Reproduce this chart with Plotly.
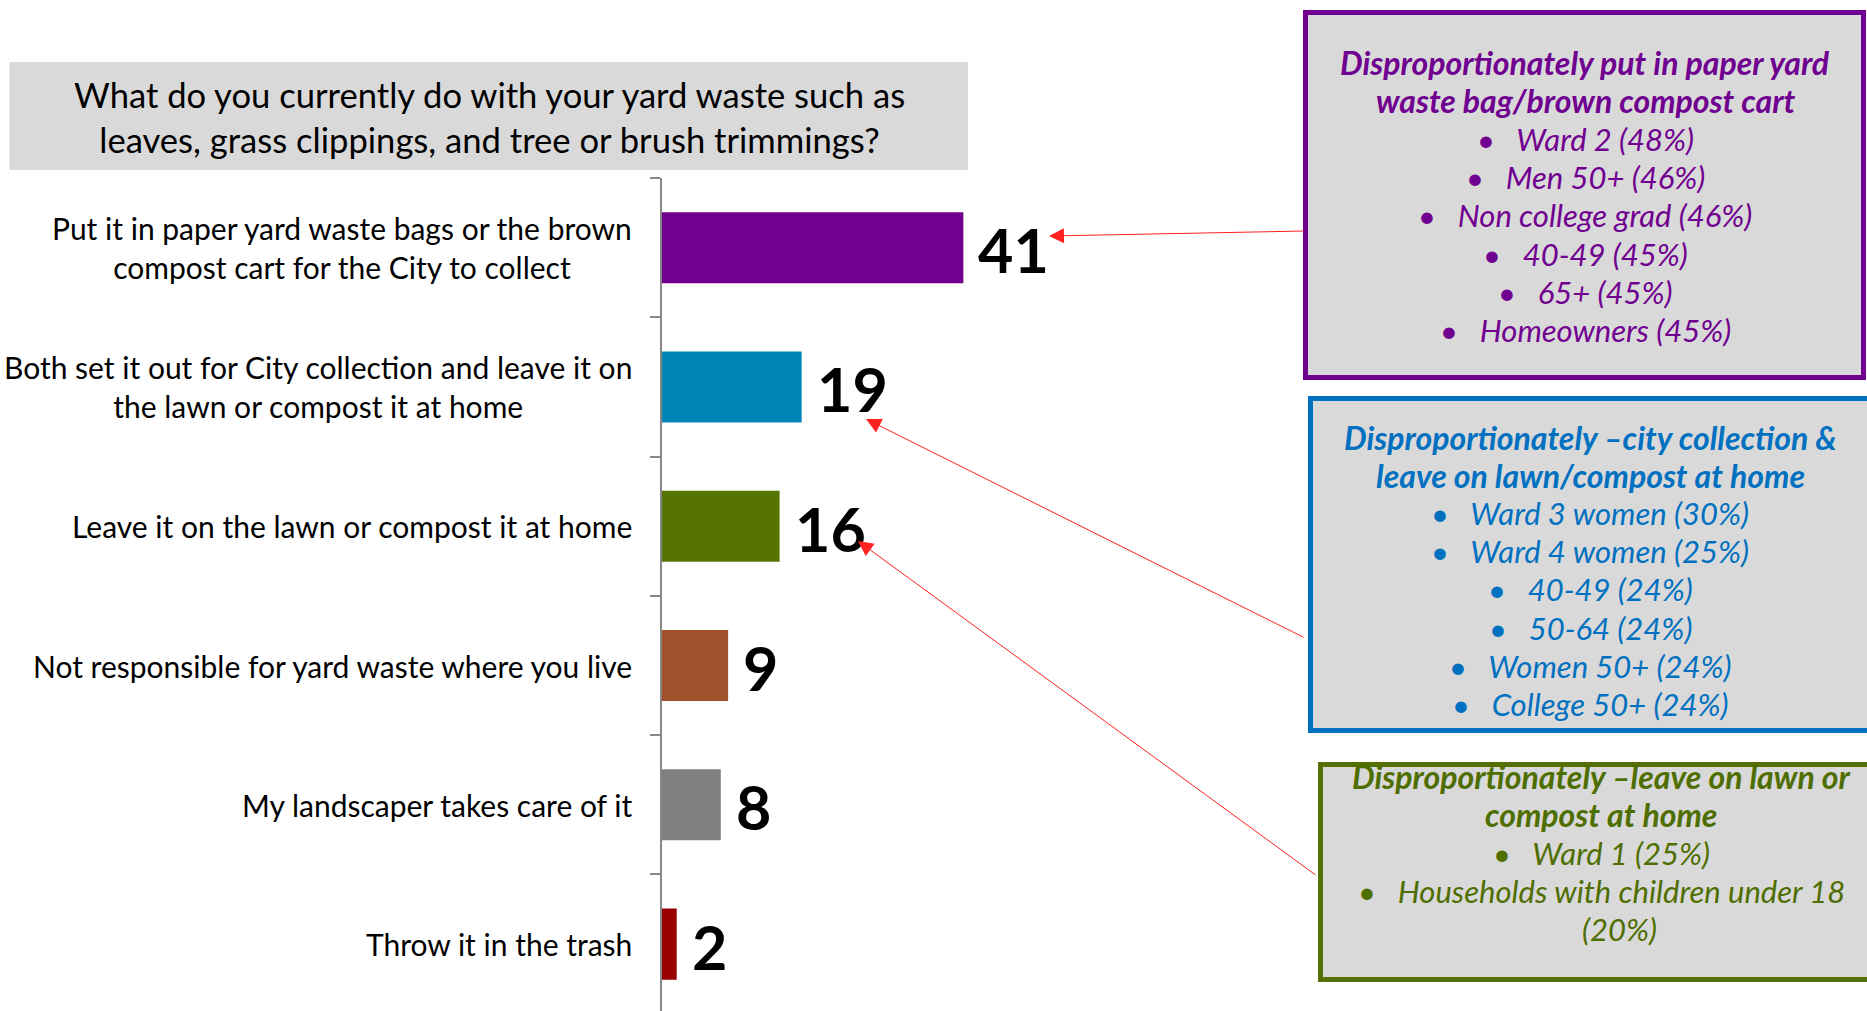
import plotly.graph_objects as go

W, H = 1867, 1011

# ---- data ----
categories = [
    "Put it in paper yard waste bags or the brown<br>compost cart for the City to collect",
    "Both set it out for City collection and leave it on<br>the lawn or compost it at home",
    "Leave it on the lawn or compost it at home",
    "Not responsible for yard waste where you live",
    "My landscaper takes care of it",
    "Throw it in the trash",
]
values = [41, 19, 16, 9, 8, 2]
bar_colors = ["#700090", "#0085B6", "#567400", "#A0522D", "#808080", "#990000"]

question = "What do you currently do with your yard waste such as<br>leaves, grass clippings, and tree or brush trimmings?"

purple_title = ["Disproportionately put in paper yard", "waste bag/brown compost cart"]
purple_items = ["Ward 2 (48%)", "Men 50+ (46%)", "Non college grad (46%)", "40-49 (45%)", "65+ (45%)", "Homeowners (45%)"]
blue_title = ["Disproportionately \u2013city collection &", "leave on lawn/compost at home"]
blue_items = ["Ward 3 women (30%)", "Ward 4 women (25%)", "40-49 (24%)", "50-64 (24%)", "Women 50+ (24%)", "College 50+ (24%)"]
green_title = ["Disproportionately \u2013leave on lawn or", "compost at home"]
green_items = ["Ward 1 (25%)", "Households with children under 18"]
green_tail = ["(20%)"]

FONT = "Lato"


def px(x):
    return x / W


def py(y):
    return 1 - y / H


idx = list(range(len(categories)))

fig = go.Figure()
fig.add_trace(go.Bar(
    x=values, y=idx, orientation="h",
    marker=dict(color=bar_colors, line=dict(width=0)),
    width=0.51, hoverinfo="skip",
))

x_left = 662
px_per_unit = 7.35
x_max = 50
fig.update_layout(
    width=W, height=H,
    margin=dict(l=0, r=0, t=0, b=0),
    paper_bgcolor="white", plot_bgcolor="white",
    showlegend=False,
    xaxis=dict(domain=[px(x_left), px(x_left + px_per_unit * x_max)], range=[0, x_max],
               visible=False, fixedrange=True),
    yaxis=dict(domain=[0, py(178)], range=[5.48, -0.5], showgrid=False, zeroline=False,
               showline=True, linecolor="#878787", linewidth=2,
               tickmode="array", tickvals=[i - 0.5 for i in idx], ticktext=[""] * len(idx),
               ticks="outside", ticklen=10, tickwidth=2, tickcolor="#878787",
               showticklabels=False, fixedrange=True),
)

shapes = []
annotations = []

# question box
shapes.append(dict(type="rect", xref="paper", yref="paper", x0=px(9.5), x1=px(968), y0=py(62), y1=py(170),
                   fillcolor="#D9D9D9", line=dict(width=0), layer="below"))
annotations.append(dict(xref="paper", yref="paper", x=px(489), y=py(117), text=question, showarrow=False,
                        xanchor="center", yanchor="middle", align="center",
                        font=dict(family=FONT, size=34.6, color="black")))

# category labels
for i, c in zip(idx, categories):
    annotations.append(dict(xref="paper", yref="y", x=px(634), y=i, text=c, showarrow=False,
                            xanchor="right", yanchor="middle", align="center",
                            font=dict(family=FONT, size=30, color="black")))

# value labels
for i, v in zip(idx, values):
    annotations.append(dict(xref="x", yref="y", x=v, y=i, text=f"<b>{v}</b>", showarrow=False,
                            xanchor="left", yanchor="middle", xshift=13, yshift=-2,
                            font=dict(family=FONT, size=61, color="black")))

# callout boxes
NB = "\u00a0" * 3


def box_lines(title, items, tail=()):
    lines = [(f"<b><i>{t}</i></b>", 32, 0) for t in title]
    lines += [(f"<i>\u2022{NB}{it}</i>", 31, 0) for it in items]
    lines += [(f"<i>{t}</i>", 31, 18) for t in tail]
    return lines


boxes = [
    (1303, 1866, 10, 380, "#700090", "#700090", box_lines(purple_title, purple_items), 1585, 62, 38.3),
    (1308, 1880, 396, 733, "#0070C0", "#0070C0", box_lines(blue_title, blue_items), 1590, 437, 38.1),
    (1318, 1880, 762, 982, "#547000", "#4F6E00", box_lines(green_title, green_items, green_tail), 1601, 776, 38.3),
]
for x0, x1, y0, y1, lc, tc, lines, cx, ystart, dy in boxes:
    shapes.append(dict(type="rect", xref="paper", yref="paper",
                       x0=px(x0 + 2.5), x1=px(x1 - 2.5), y0=py(y0 + 2.5), y1=py(y1 - 2.5),
                       fillcolor="#D9D9D9", line=dict(color=lc, width=5), layer="below"))
    for k, (txt, fs, shift) in enumerate(lines):
        annotations.append(dict(xref="paper", yref="paper", x=px(cx + shift), y=py(ystart + k * dy), text=txt,
                                showarrow=False, xanchor="center", yanchor="middle", align="center",
                                font=dict(family=FONT, size=fs, color=tc)))

# red arrows from boxes to value labels
arrows = [((1049, 236), (1305, 231)), ((866, 419), (1305, 638)), ((858, 541), (1317, 876))]
for (tx, ty), (sx, sy) in arrows:
    annotations.append(dict(xref="paper", yref="paper", x=px(tx), y=py(ty), text="",
                            showarrow=True, axref="pixel", ayref="pixel", ax=sx - tx, ay=sy - ty,
                            arrowhead=2, arrowsize=3, arrowwidth=1, arrowcolor="#FF2020", standoff=0))

fig.update_layout(shapes=shapes, annotations=annotations)
fig.write_html("out.html", config={"displayModeBar": False},
               post_script="document.body.style.margin='0';document.body.style.overflow='hidden';")
